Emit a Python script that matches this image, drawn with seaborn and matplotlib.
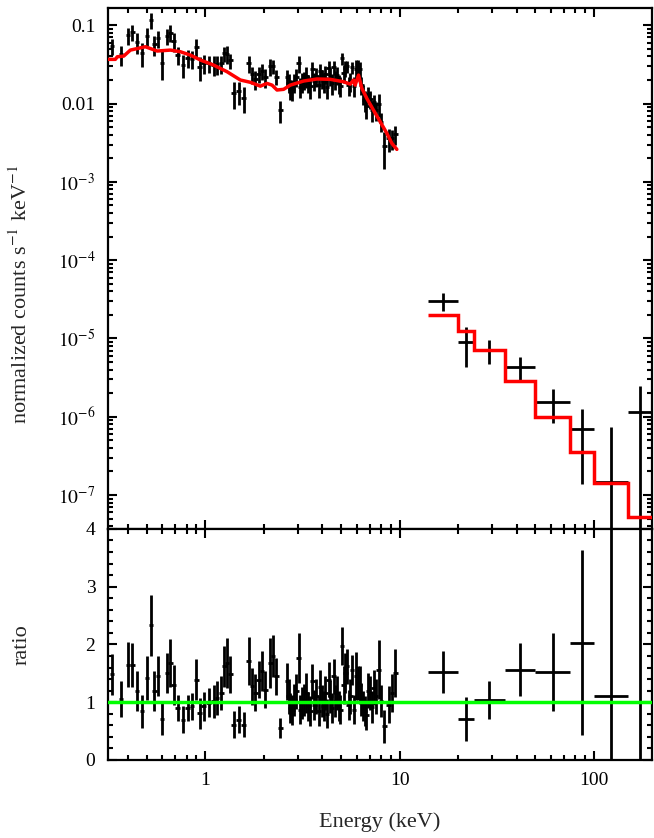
import numpy as np
import matplotlib
matplotlib.use('Agg')
import matplotlib.pyplot as plt
from matplotlib.ticker import FixedLocator, LogLocator, NullFormatter, FuncFormatter, MultipleLocator
import seaborn as sns
import pandas as pd

# soft band spectrum (energy in keV, data/model ratio and its 1-sigma error)
soft_E = [0.331, 0.368, 0.399, 0.420, 0.445, 0.472, 0.501, 0.524, 0.547, 0.571,
          0.599, 0.635, 0.661, 0.687, 0.721, 0.768, 0.811, 0.854, 0.899, 0.935,
          0.980, 1.040, 1.104, 1.148, 1.208, 1.252, 1.292, 1.344, 1.398, 1.484,
          1.574, 1.670, 1.738, 1.807, 1.880, 1.956, 2.034, 2.159, 2.228, 2.317,
          2.430, 2.630, 2.735, 2.869, 3.019, 3.141, 3.306, 3.467, 3.635, 3.825,
          3.979, 4.140, 4.306, 4.480, 4.661, 4.848, 5.043, 5.246, 5.457, 5.677,
          5.975, 6.216, 6.466, 6.726, 7.054, 7.337, 7.784, 8.002, 8.324, 8.762,
          9.114, 9.482,
          # interleaved bins, 2.6-7.6 keV
          2.68, 2.80, 2.94, 3.08, 3.22, 3.39, 3.55, 3.73, 3.90, 4.06,
          4.22, 4.39, 4.57, 4.75, 4.95, 5.14, 5.35, 5.57, 5.82, 6.10,
          6.34, 6.60, 6.89, 7.20, 7.55]
soft_ratio = [1.48, 1.06, 1.65, 1.65, 1.19, 0.84, 1.42, 2.33, 1.19, 1.45,
              0.71, 1.51, 1.68, 1.30, 0.90, 0.70, 0.90, 0.93, 1.39, 0.81,
              0.93, 0.99, 1.015, 1.07, 1.16, 1.62, 1.68, 1.48, 0.61, 0.70,
              0.61, 1.71, 1.275, 1.16, 1.39, 1.54, 1.22, 1.68, 1.80, 1.45,
              0.55, 1.36, 0.90, 1.04, 1.77, 0.99, 1.16, 0.84, 0.96, 0.84,
              1.015, 1.16, 1.39, 0.90, 1.015, 0.93, 1.97, 1.51, 0.96, 1.565,
              1.45, 1.30, 0.93, 0.78, 1.16, 1.25, 1.565, 1.015, 0.58, 0.96,
              1.16, 1.51,
              1.10, 0.87, 1.19, 0.87, 1.04, 0.93, 1.36, 1.10, 1.27, 0.93,
              0.80, 1.10, 1.45, 1.16, 0.87, 1.30, 1.62, 1.10, 0.87, 1.33,
              1.05, 0.85, 1.20, 0.92, 1.10]
soft_ratio_err = [0.35, 0.31, 0.39, 0.38, 0.35, 0.28, 0.38, 0.53, 0.35, 0.35,
                  0.28, 0.35, 0.41, 0.35, 0.23, 0.23, 0.23, 0.23, 0.35, 0.27,
                  0.25, 0.25, 0.29, 0.29, 0.30, 0.36, 0.43, 0.32, 0.23, 0.23,
                  0.22, 0.42, 0.32, 0.32, 0.32, 0.35, 0.32, 0.43, 0.36, 0.32,
                  0.17, 0.32, 0.26, 0.28, 0.43, 0.28, 0.35, 0.26, 0.26, 0.26,
                  0.275, 0.30, 0.30, 0.26, 0.275, 0.26, 0.33, 0.35, 0.26, 0.26,
                  0.42, 0.33, 0.26, 0.26, 0.30, 0.30, 0.51, 0.275, 0.29, 0.32,
                  0.33, 0.42,
                  0.30, 0.26, 0.30, 0.25, 0.27, 0.25, 0.30, 0.30, 0.28, 0.26,
                  0.25, 0.28, 0.30, 0.30, 0.25, 0.33, 0.30, 0.30, 0.25, 0.30,
                  0.28, 0.26, 0.30, 0.28, 0.30]
# normalized counts s^-1 keV^-1
soft_flux = [0.0543, 0.0424, 0.0743, 0.0809, 0.0607, 0.0445, 0.0738, 0.1165, 0.0571, 0.0682,
             0.0334, 0.0725, 0.0806, 0.0624, 0.0423, 0.0315, 0.0387, 0.0372, 0.0528, 0.0292,
             0.0326, 0.0327, 0.0315, 0.0321, 0.0325, 0.0437, 0.0428, 0.0355, 0.0137, 0.0144,
             0.0119, 0.0325, 0.0236, 0.0206, 0.0236, 0.0259, 0.0216, 0.0299, 0.0302, 0.0220,
             0.00825, 0.0220, 0.0155, 0.0187, 0.0329, 0.0190, 0.0227, 0.0168, 0.0196, 0.0173,
             0.0209, 0.0239, 0.0285, 0.0183, 0.0203, 0.0182, 0.0378, 0.0282, 0.0173, 0.0290,
             0.0276, 0.0273, 0.0135, 0.0094, 0.0116, 0.0104, 0.0100, 0.0059, 0.0029, 0.0036,
             0.0036, 0.0041,
             0.0185, 0.0153, 0.0218, 0.0164, 0.0202, 0.0184, 0.0275, 0.0226, 0.0262, 0.0192,
             0.0165, 0.0224, 0.0291, 0.0230, 0.0169, 0.0247, 0.0298, 0.0195, 0.0170, 0.0293,
             0.0173, 0.0111, 0.0132, 0.0083, 0.0083]

# soft band folded model
model_E = [0.315, 0.344, 0.352, 0.380, 0.411, 0.491, 0.565, 0.661, 0.744, 0.837,
           0.943, 1.103, 1.293, 1.513, 1.703, 1.918, 2.075, 2.203, 2.337, 2.527,
           2.735, 3.202, 3.751, 4.393, 5.14, 5.567, 5.79, 5.90, 6.14, 6.39,
           6.78, 7.33, 7.94, 8.59, 9.12, 9.67]
model_flux = [0.0367, 0.0367, 0.0396, 0.0404, 0.0482, 0.0532, 0.0469, 0.0482, 0.0459, 0.0416,
              0.0360, 0.0310, 0.0255, 0.0200, 0.0187, 0.0167, 0.0181, 0.0172, 0.0149, 0.0152,
              0.0172, 0.0194, 0.0206, 0.0204, 0.0190, 0.0177, 0.0200, 0.0172, 0.0231, 0.0156,
              0.0116, 0.00826, 0.00586, 0.00417, 0.00310, 0.00260]

# hard band (8 channels)
hard_edges = [14, 20, 24, 35, 50, 75, 100, 150, 200]
hard_flux = [3.0e-5, 9.1e-6, 7.1e-6, 4.37e-6, 1.53e-6, 7.0e-7, 1.48e-7, 1.14e-6]
hard_flux_err = [7.8e-6, 4.8e-6, 2.35e-6, 1.4e-6, 7.0e-7, 5.6e-7, 5.9e-7, 1.36e-6]
hard_model = [2.0e-5, 1.26e-5, 7.2e-6, 2.88e-6, 1.0e-6, 3.5e-7, 1.41e-7, 5.3e-8]
hard_ratio = [1.525, 0.71, 1.04, 1.565, 1.525, 2.03, 1.11, 21.5]
hard_ratio_err = [0.36, 0.375, 0.33, 0.455, 0.68, 1.6, 4.2, 25.7]

sns.set_theme(style='ticks')
plt.rcParams['font.family'] = ['Liberation Serif', 'DejaVu Serif']
plt.rcParams['mathtext.fontset'] = 'stix'
plt.rcParams['font.size'] = 14

soft = pd.DataFrame({'E': soft_E, 'ratio': soft_ratio, 'rerr': soft_ratio_err, 'flux': soft_flux})
soft['ferr'] = soft['flux'] * soft['rerr'] / soft['ratio']
# small bin half widths in log space
soft['elo'] = soft['E'] - soft['E'] / 10**0.012
soft['ehi'] = soft['E'] * 10**0.012 - soft['E']

he = np.array(hard_edges, dtype=float)
hard_mid = np.sqrt(he[:-1] * he[1:])
hard_xerr = [hard_mid - he[:-1], he[1:] - hard_mid]

fig = plt.figure(figsize=(6.54, 8.38), dpi=100)
ax1 = fig.add_axes([0.165, 0.3687, 0.832, 0.6217])
ax2 = fig.add_axes([0.165, 0.0931, 0.832, 0.2757], sharex=ax1)

ebar = dict(fmt='none', ecolor='black', elinewidth=2, capsize=0, zorder=2)

# top panel
ax1.errorbar(soft['E'], soft['flux'], xerr=[soft['elo'], soft['ehi']], yerr=soft['ferr'], **ebar)
ax1.errorbar(hard_mid, hard_flux, xerr=hard_xerr, yerr=hard_flux_err, **ebar)
sns.lineplot(x=model_E, y=model_flux, ax=ax1, color='#ff0000', lw=2.5,
             sort=False, estimator=None, zorder=3)
ax1.stairs(hard_model, hard_edges, color='#ff0000', lw=2.5, baseline=None, zorder=3)

ax1.set_xscale('log')
ax1.set_yscale('log')
ax1.set_xlim(0.315, 199)
ax1.set_ylim(3.68e-8, 0.166)

decades = [1e-7, 1e-6, 1e-5, 1e-4, 1e-3, 1e-2, 1e-1]

def yfmt(v, pos):
    if v >= 0.1:
        return '0.1'
    if v >= 0.01:
        return '0.01'
    return r'$10^{%d}$' % int(round(np.log10(v)))

ax1.yaxis.set_major_locator(FixedLocator(decades))
ax1.yaxis.set_major_formatter(FuncFormatter(yfmt))
ax1.yaxis.set_minor_locator(LogLocator(base=10, subs=np.arange(2, 10), numticks=20))
ax1.yaxis.set_minor_formatter(NullFormatter())
ax1.set_ylabel(r'normalized counts s$^{-1}$ keV$^{-1}$', fontsize=16)
ax1.yaxis.set_label_coords(-0.14, 0.45)
ax1.tick_params(labelbottom=False)

# ratio panel
ax2.errorbar(soft['E'], soft['ratio'], xerr=[soft['elo'], soft['ehi']], yerr=soft['rerr'], **ebar)
ax2.errorbar(hard_mid, hard_ratio, xerr=hard_xerr, yerr=hard_ratio_err, **ebar)
ax2.axhline(1, color='#00ff00', lw=2.5, zorder=3)
ax2.set_ylim(0, 4)
ax2.yaxis.set_major_locator(MultipleLocator(1))
ax2.yaxis.set_minor_locator(MultipleLocator(0.2))
ax2.set_ylabel('ratio', fontsize=16)
ax2.yaxis.set_label_coords(-0.14, 0.5)
ax2.xaxis.set_major_locator(FixedLocator([1, 10, 100]))
ax2.xaxis.set_major_formatter(FuncFormatter(lambda v, p: '%d' % v))
ax2.xaxis.set_minor_locator(LogLocator(base=10, subs=np.arange(2, 10), numticks=20))
ax2.xaxis.set_minor_formatter(NullFormatter())
ax2.set_xlabel('Energy (keV)', fontsize=16)
ax2.xaxis.set_label_coords(0.5, -0.225)

for ax in (ax1, ax2):
    for sp in ax.spines.values():
        sp.set_linewidth(1.6)
        sp.set_color('black')
    ax.tick_params(which='both', direction='in', top=True, right=True,
                   width=1.5, colors='black', labelsize=14)
    ax.tick_params(which='major', length=6.5, pad=9)
    ax.tick_params(which='minor', length=3.5)
    ax.set_facecolor('white')

fig.savefig('out.png', dpi=100, facecolor='white')
